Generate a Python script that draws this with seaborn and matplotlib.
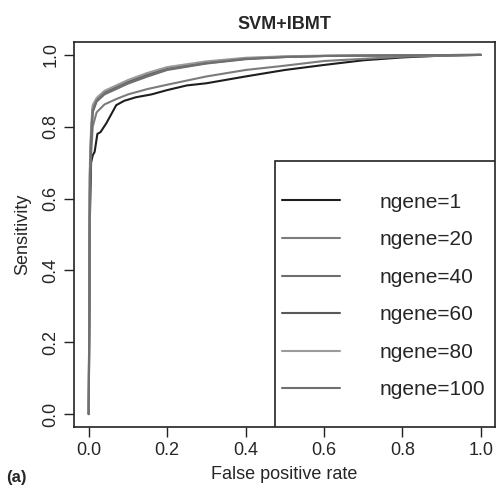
import pandas as pd
import matplotlib
matplotlib.use("Agg")
import matplotlib.pyplot as plt
import matplotlib.patches as mpatches
import seaborn as sns

# ROC curves
series_names = ["ngene=1", "ngene=20", "ngene=40", "ngene=60", "ngene=80", "ngene=100"]

fpr_1 = [0, 0.003, 0.006, 0.01, 0.015, 0.022, 0.03, 0.045, 0.055, 0.07, 0.09, 0.12,
         0.16, 0.2, 0.25, 0.3, 0.4, 0.5, 0.6, 0.7, 0.8, 0.9, 1.0]
tpr_1 = [0, 0.55, 0.70, 0.72, 0.73, 0.78, 0.785, 0.81, 0.83, 0.86, 0.872, 0.882,
         0.89, 0.902, 0.915, 0.921, 0.94, 0.958, 0.972, 0.985, 0.993, 0.998, 1.0]

fpr_grid = [0, 0.003, 0.006, 0.01, 0.02, 0.04, 0.07, 0.1, 0.15, 0.2, 0.3, 0.4, 0.5, 0.6, 0.8, 1.0]
tpr_20 = [0, 0.62, 0.72, 0.80, 0.84, 0.862, 0.877, 0.89, 0.905, 0.917, 0.94, 0.958, 0.97, 0.983, 0.995, 1.0]
tpr_40 = [0, 0.66, 0.76, 0.84, 0.87, 0.89, 0.905, 0.92, 0.94, 0.958, 0.976, 0.988, 0.994, 0.997, 0.999, 1.0]
tpr_60 = [0, 0.68, 0.78, 0.85, 0.875, 0.895, 0.91, 0.925, 0.945, 0.962, 0.979, 0.99, 0.995, 0.997, 0.999, 1.0]
tpr_80 = [0, 0.70, 0.80, 0.86, 0.88, 0.90, 0.915, 0.93, 0.95, 0.966, 0.982, 0.992, 0.996, 0.998, 0.999, 1.0]
tpr_100 = [0, 0.67, 0.77, 0.845, 0.872, 0.893, 0.908, 0.922, 0.942, 0.96, 0.977, 0.989, 0.994, 0.997, 0.999, 1.0]

curves = {
    "ngene=1": (fpr_1, tpr_1),
    "ngene=20": (fpr_grid, tpr_20),
    "ngene=40": (fpr_grid, tpr_40),
    "ngene=60": (fpr_grid, tpr_60),
    "ngene=80": (fpr_grid, tpr_80),
    "ngene=100": (fpr_grid, tpr_100),
}

line_colors = ["#1e1e1e", "#7c7c7c", "#6e6e6e", "#5a5a5a", "#9a9a9a", "#707070"]

rows = []
for name in series_names:
    xs, ys = curves[name]
    for x, y in zip(xs, ys):
        rows.append({"fpr": x, "tpr": y, "ngene": name})
df = pd.DataFrame(rows)

sns.set_style("white")
plt.rcParams["font.family"] = ["Liberation Sans", "DejaVu Sans"]

fig = plt.figure(figsize=(4.99, 4.88), dpi=100)
ax = fig.add_axes([0.148, 0.125, 0.844, 0.789])

sns.lineplot(data=df, x="fpr", y="tpr", hue="ngene", hue_order=series_names,
             palette=dict(zip(series_names, line_colors)), sort=False,
             estimator=None, linewidth=1.5, ax=ax)

ax.set_xlim(-0.038, 1.036)
ax.set_ylim(-0.036, 1.036)
ax.set_xticks([0, 0.2, 0.4, 0.6, 0.8, 1.0])
ax.set_yticks([0, 0.2, 0.4, 0.6, 0.8, 1.0])
ax.set_xticklabels(["0.0", "0.2", "0.4", "0.6", "0.8", "1.0"], fontsize=13)
ax.set_yticklabels(["0.0", "0.2", "0.4", "0.6", "0.8", "1.0"], fontsize=13,
                   rotation=90, va="center")
ax.tick_params(direction="out", length=7, width=1, color="#222222", bottom=True, left=True)
for sp in ax.spines.values():
    sp.set_color("#222222")
    sp.set_linewidth(1.2)

ax.set_xlabel("False positive rate", fontsize=13, labelpad=5)
ax.set_ylabel("Sensitivity", fontsize=13, labelpad=8)
ax.set_title("SVM+IBMT", fontsize=13, fontweight="bold", pad=9)

# legend box (R style: wide vertical padding)
ax.add_patch(mpatches.Rectangle((0.477, 0.0), 0.523, 0.69, transform=ax.transAxes,
                                facecolor="white", edgecolor="#222222",
                                linewidth=1.2, zorder=4))
handles, labels = ax.get_legend_handles_labels()
leg = ax.legend(handles, labels, loc="center left", bbox_to_anchor=(0.494, 0.34),
                borderaxespad=0, borderpad=0, fontsize=15, frameon=False,
                handlelength=2.8, handletextpad=1.9, labelspacing=0.89)
leg.set_zorder(5)

fig.text(0.012, 0.012, "(a)", fontsize=12, fontweight="bold")

fig.savefig("out.png", dpi=100)
